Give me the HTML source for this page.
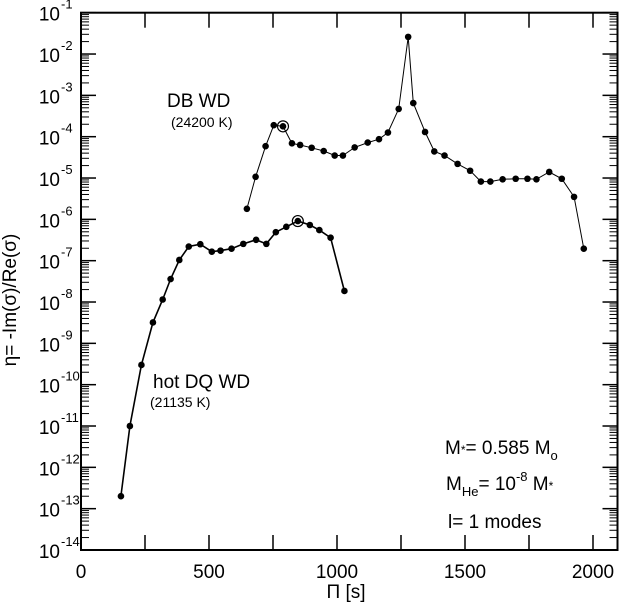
<!DOCTYPE html>
<html><head><meta charset="utf-8"><style>
body{margin:0;background:#fff}
svg{display:block;font-family:"Liberation Sans",sans-serif}
</style></head><body>
<svg id="chart" width="620" height="602" viewBox="0 0 620 602"></svg>
<script>
const dbPeriods=[648,682,721,753,789,824,856,901,948,991,1023,1069,1120,1164,1199,1241,1278,1298,1344,1380,1420,1471,1520,1562,1599,1647,1698,1744,1779,1829,1878,1926,1964];
const dbEta=[1.8e-6,1.07e-5,5.9e-5,1.9e-4,1.78e-4,6.9e-5,6.3e-5,5.4e-5,4.5e-5,3.5e-5,3.5e-5,5.5e-5,7.2e-5,8.7e-5,1.26e-4,4.7e-4,2.6e-2,6.5e-4,1.3e-4,4.4e-5,3.5e-5,2.2e-5,1.5e-5,8.2e-6,8.2e-6,9.3e-6,9.6e-6,9.6e-6,9.3e-6,1.4e-5,9.6e-6,3.5e-6,1.95e-7];
const dbCircled=4;
const dqPeriods=[156,191,236,281,319,350,384,421,466,511,545,588,634,684,724,761,802,847,894,931,975,1029];
const dqEta=[2e-13,1.0e-11,3e-10,3.2e-9,1.15e-8,3.6e-8,1.04e-7,2.2e-7,2.5e-7,1.65e-7,1.75e-7,1.95e-7,2.55e-7,3.2e-7,2.55e-7,4.9e-7,6.6e-7,9.1e-7,7.3e-7,5.5e-7,3.6e-7,1.85e-8];
const dqCircled=17;
const xTicks=[0,500,1000,1500,2000];
const yExps=[-1,-2,-3,-4,-5,-6,-7,-8,-9,-10,-11,-12,-13,-14];

const NS="http://www.w3.org/2000/svg";
const svg=document.getElementById('chart');
const L=81,R=617.5,T=12.7,B=550;
const X=v=>L+v*(593-L)/2000;
const Y=v=>T+(-1-Math.log10(v))*(B-T)/13;
function mk(tag,attrs,parent){const e=document.createElementNS(NS,tag);for(const k in attrs)e.setAttribute(k,attrs[k]);(parent||svg).appendChild(e);return e;}

// frame
const frame=mk('rect',{x:L,y:T,width:R-L,height:B-T,fill:'none',stroke:'#000','stroke-width':2});



// y ticks
const yg=mk('g',{});


for(let e=-14;e<=-1;e++){
  const y=T+(-1-e)*(B-T)/13;
  mk('line',{x1:L,y1:y,x2:L+15,y2:y,stroke:'#000','stroke-width':1.5},yg);
  mk('line',{x1:R-15,y1:y,x2:R,y2:y,stroke:'#000','stroke-width':1.5},yg);
  if(e<-1){for(let m=2;m<=9;m++){const yy=Y(m*Math.pow(10,e));mk('line',{x1:L,y1:yy,x2:L+8,y2:yy,stroke:'#000','stroke-width':1},yg);mk('line',{x1:R-8,y1:yy,x2:R,y2:yy,stroke:'#000','stroke-width':1},yg);}}
}
yExps.forEach(e=>{
  const y=Y(Math.pow(10,e));
  const t=mk('text',{x:60,y:y+8,'font-size':19,'text-anchor':'end'},yg);
  
  
  t.textContent='10';
  const s=mk('text',{x:61,y:y-4,'font-size':13},yg);
  s.textContent=String(e);
});
// x ticks
const xg=mk('g',{});


for(let v=250;v<2100;v+=250){const x=X(v);mk('line',{x1:x,y1:B,x2:x,y2:B-15,stroke:'#000','stroke-width':1.5},xg);mk('line',{x1:x,y1:T,x2:x,y2:T+15,stroke:'#000','stroke-width':1.5},xg);}
xTicks.forEach(v=>{const t=mk('text',{x:X(v),y:578,'font-size':19,'text-anchor':'middle'},xg);
  
  
  t.textContent=String(v);});
const xt=mk('text',{x:346,y:598,'font-size':19,'text-anchor':'middle'});


xt.textContent='Π [s]';
const yt=mk('text',{x:0,y:0,'font-size':19,'text-anchor':'middle',transform:'translate(16,300) rotate(-90)'});


yt.textContent='η= -Im(σ)/Re(σ)';

function series(px,ey,circ,name,w){
  const g=mk('g',{});
  
  
  const pts=px.map((p,i)=>X(p).toFixed(1)+','+Y(ey[i]).toFixed(1)).join(' ');
  mk('polyline',{points:pts,fill:'none',stroke:'#000','stroke-width':w},g);
  px.forEach((p,i)=>{const c=mk('circle',{cx:X(p),cy:Y(ey[i]),r:3.3,fill:'#000'},g);
    
    
    if(i===circ)mk('circle',{cx:X(p),cy:Y(ey[i]),r:5.5,fill:'none',stroke:'#000','stroke-width':1.2},g);});
}
series(dbPeriods,dbEta,dbCircled,'db-wd-series',1);
series(dqPeriods,dqEta,dqCircled,'hot-dq-wd-series',1.6);

function txt(x,y,s,size,name){const t=mk('text',{x:x,y:y,'font-size':size});t.innerHTML=s;return t;}
txt(167,107,'DB WD',19,'db-wd-label');
txt(171,127,'(24200 K)',14,'db-wd-temp');
txt(153,388,'hot DQ WD',19,'hot-dq-label');
txt(150,407,'(21135 K)',14,'hot-dq-temp');
txt(445,454,'M<tspan font-size="12" dy="0">*</tspan>= 0.585 M<tspan font-size="13" dy="6">o</tspan>',19,'mass-annotation');
txt(446,490,'M<tspan font-size="13" dy="6">He</tspan><tspan dy="-6">= 10</tspan><tspan font-size="13" dy="-9">-8</tspan><tspan dy="9"> M</tspan><tspan font-size="12">*</tspan>',19,'helium-mass-annotation');
txt(448,528,'l= 1 modes',19,'modes-annotation');
</script>
</body></html>
